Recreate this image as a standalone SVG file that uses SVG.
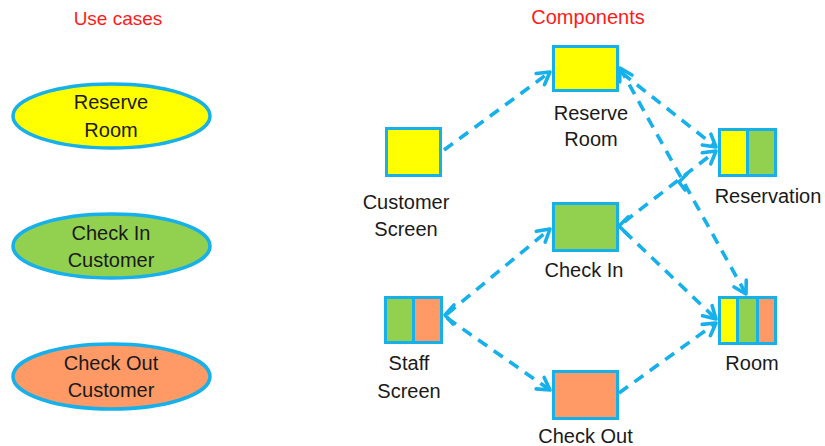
<svg xmlns="http://www.w3.org/2000/svg" width="825" height="446" viewBox="0 0 825 446">
<style>
text{font-family:"Liberation Sans",Arial,sans-serif;font-size:20px;fill:#1a1a1a;text-anchor:middle}
.hdr{fill:#ff1a1a;font-size:19px}
.box{stroke:#16b0ea;stroke-width:3}
.uc{stroke:#16b0ea;stroke-width:3.5}
.y{fill:#ffff00}.g{fill:#92d050}.o{fill:#ff9966}
.div{stroke:#16b0ea;stroke-width:3}
.con{stroke:#16b0ea;stroke-width:3.6;fill:none;stroke-dasharray:11 8}
.chev{stroke:#16b0ea;stroke-width:3.6;fill:none;stroke-linecap:round;stroke-linejoin:round}
</style>
<defs>
<marker id="ah" markerUnits="userSpaceOnUse" markerWidth="18" markerHeight="18" viewBox="0 0 18 18" refX="15" refY="9" orient="auto">
<path d="M3,2 L15,9 L3,16" fill="none" stroke="#16b0ea" stroke-width="3.6" stroke-linecap="round" stroke-linejoin="round" stroke-dasharray="none"/>
</marker>
<marker id="ahs" markerUnits="userSpaceOnUse" markerWidth="18" markerHeight="18" viewBox="0 0 18 18" refX="15" refY="9" orient="auto-start-reverse">
<path d="M3,2 L15,9 L3,16" fill="none" stroke="#16b0ea" stroke-width="3.6" stroke-linecap="round" stroke-linejoin="round" stroke-dasharray="none"/>
</marker>
</defs>

<text class="hdr" x="118" y="25">Use cases</text>
<text class="hdr" x="588" y="24" style="font-size:20px">Components</text>

<g id="uc-reserve-room">
<ellipse class="uc y" cx="111.5" cy="116" rx="98.5" ry="32"/>
<text x="111" y="109">Reserve</text>
<text x="111" y="137">Room</text>
</g>
<g id="uc-check-in">
<ellipse class="uc g" cx="111.5" cy="246" rx="98.5" ry="32"/>
<text x="111" y="240">Check In</text>
<text x="111" y="267">Customer</text>
</g>
<g id="uc-check-out">
<ellipse class="uc o" cx="111.5" cy="376.5" rx="98.5" ry="32.5"/>
<text x="111" y="370">Check Out</text>
<text x="111" y="397">Customer</text>
</g>

<g id="connectors">
<line class="con" x1="444" y1="150" x2="550" y2="72" marker-end="url(#ah)"/>
<line class="con" x1="622" y1="73" x2="716" y2="147" marker-end="url(#ah)"/>
<line class="con" x1="620" y1="68" x2="746" y2="294" marker-start="url(#ahs)" marker-end="url(#ah)"/>
<line class="con" x1="624" y1="222" x2="716" y2="151" marker-end="url(#ah)"/>
<line class="con" x1="624" y1="231" x2="716" y2="319" marker-end="url(#ah)"/>
<line class="con" x1="619" y1="393" x2="716" y2="323" marker-end="url(#ah)"/>
<line class="con" x1="447" y1="314" x2="550" y2="229" marker-end="url(#ah)"/>
<line class="con" x1="447" y1="318" x2="550" y2="390" marker-end="url(#ah)"/>
<polyline class="chev" points="454,305 445,315 453,324"/>
<polyline class="chev" points="628,217 619,226 628,235"/>
<polyline class="chev" points="687,174 679,182 685,190"/>
</g>

<g id="reserve-room">
<rect class="box y" x="553.5" y="46.5" width="64" height="44"/>
<text x="591" y="120">Reserve</text>
<text x="591" y="146">Room</text>
</g>
<g id="customer-screen">
<rect class="box y" x="386.5" y="128.5" width="54" height="47"/>
<text x="406" y="209">Customer</text>
<text x="406" y="236">Screen</text>
</g>
<g id="check-in">
<rect class="box g" x="553.5" y="203.5" width="64" height="47"/>
<text x="584" y="277">Check In</text>
</g>
<g id="staff-screen">
<rect class="g" x="385.5" y="297.5" width="28" height="45"/>
<rect class="o" x="413.5" y="297.5" width="28" height="45"/>
<line class="div" x1="413.5" y1="297.5" x2="413.5" y2="342.5"/>
<rect class="box" fill="none" x="385.5" y="297.5" width="56" height="45"/>
<text x="409" y="370">Staff</text>
<text x="409" y="398">Screen</text>
</g>
<g id="check-out">
<rect class="box o" x="553.5" y="371.5" width="64" height="47"/>
<text x="585.5" y="443">Check Out</text>
</g>
<g id="reservation">
<rect class="y" x="719.5" y="129.5" width="28" height="46"/>
<rect class="g" x="747.5" y="129.5" width="28" height="46"/>
<line class="div" x1="747.5" y1="129.5" x2="747.5" y2="175.5"/>
<rect class="box" fill="none" x="719.5" y="129.5" width="56" height="46"/>
<text x="768" y="203">Reservation</text>
</g>
<g id="room">
<rect class="y" x="719.5" y="297.5" width="18" height="46"/>
<rect class="g" x="737.5" y="297.5" width="20" height="46"/>
<rect class="o" x="757.5" y="297.5" width="18" height="46"/>
<line class="div" x1="737.5" y1="297.5" x2="737.5" y2="343.5"/>
<line class="div" x1="757.5" y1="297.5" x2="757.5" y2="343.5"/>
<rect class="box" fill="none" x="719.5" y="297.5" width="56" height="46"/>
<text x="752" y="370">Room</text>
</g>
</svg>
